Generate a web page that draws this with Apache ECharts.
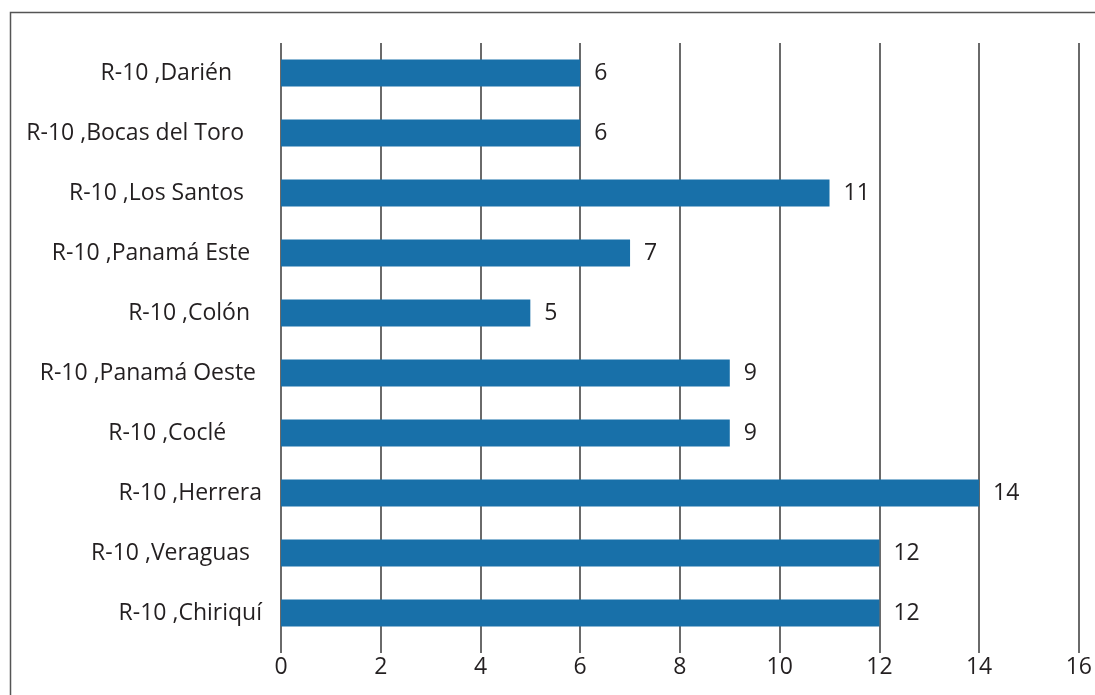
<!DOCTYPE html>
<html>
<head>
<meta charset="utf-8">
<style>
html,body{margin:0;padding:0;background:#fff;}
#chart{width:1095px;height:695px;}
</style>
<script src="https://cdn.jsdelivr.net/npm/echarts@6/dist/echarts.min.js"></script>
</head>
<body>
<div id="chart"></div>
<script>
const categories = [
  'R-10 ,Darién     ',
  'R-10 ,Bocas del Toro   ',
  'R-10 ,Los Santos   ',
  'R-10 ,Panamá Este  ',
  'R-10 ,Colón  ',
  'R-10 ,Panamá Oeste ',
  'R-10 ,Coclé      ',
  'R-10 ,Herrera',
  'R-10 ,Veraguas  ',
  'R-10 ,Chiriquí'
];
const values = [6, 6, 11, 7, 5, 9, 9, 14, 12, 12];
const xTicks = [0, 2, 4, 6, 8, 10, 12, 14, 16];

const FONT = 'Open Sans';
const TXT = '#231f20';
const chart = echarts.init(document.getElementById('chart'));
chart.setOption({
  animation: false,
  backgroundColor: '#fff',
  graphic: [{
    type: 'rect',
    shape: {x: 10.5, y: 12.5, width: 1200, height: 800},
    style: {fill: 'none', stroke: '#555', lineWidth: 1.5},
    silent: true
  }],
  grid: {left: 281, right: 8, top: 43, bottom: 52, containLabel: false},
  xAxis: {
    type: 'value',
    min: xTicks[0],
    max: xTicks[xTicks.length - 1],
    interval: 2,
    axisLine: {show: false},
    axisTick: {show: true, length: 10, lineStyle: {color: '#6a6a6a', width: 2}},
    splitLine: {show: true, lineStyle: {color: '#6a6a6a', width: 2}},
    axisLabel: {color: TXT, fontFamily: FONT, fontSize: 23, margin: 13}
  },
  yAxis: {
    type: 'category',
    data: categories,
    inverse: true,
    axisLine: {show: false},
    axisTick: {show: false},
    axisLabel: {color: TXT, fontFamily: FONT, fontSize: 23, margin: 19}
  },
  series: [{
    type: 'bar',
    data: values,
    barWidth: 27,
    itemStyle: {color: '#1870a9'},
    label: {
      show: true,
      position: 'right',
      distance: 14,
      color: TXT,
      fontFamily: FONT,
      fontSize: 23
    }
  }]
});
</script>
</body>
</html>
